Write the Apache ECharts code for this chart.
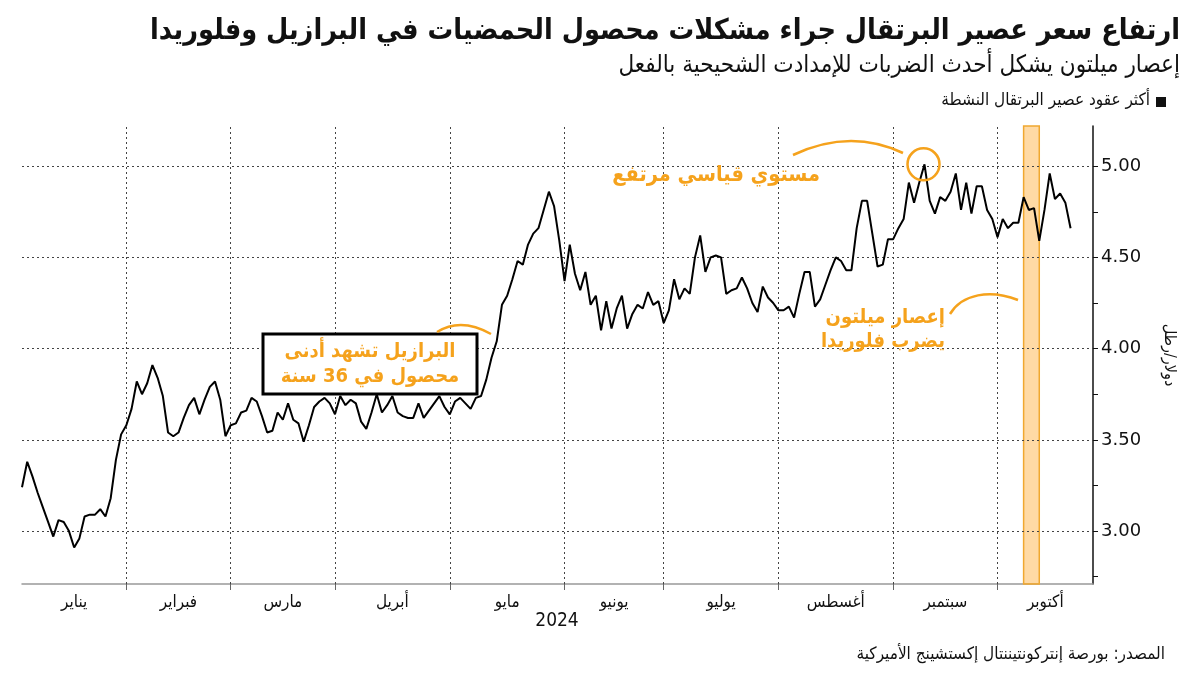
<!DOCTYPE html>
<html>
<head>
<meta charset="utf-8">
<script src="https://cdn.jsdelivr.net/npm/echarts@6/dist/echarts.min.js"></script>
<style>
html,body{margin:0;padding:0;background:#fff;}
#c{width:1200px;height:675px;}
</style>
</head>
<body>
<div id="c" dir="rtl"></div>
<script>
// Trading-day index (Jan 2, 2024 = 0); first plotted value is day 1
const firstDay = 1;
const prices = [
3.24,3.38,3.30,3.21,3.13,3.05,2.97,3.06,3.05,3.00,
2.91,2.96,3.08,3.09,3.09,3.12,3.08,3.18,3.39,3.53,
3.58,3.67,3.82,3.75,3.81,3.91,3.84,3.74,3.54,3.52,
3.54,3.62,3.69,3.73,3.64,3.72,3.79,3.82,3.72,3.52,
3.58,3.59,3.65,3.66,3.73,3.71,3.63,3.54,3.55,3.65,
3.61,3.70,3.61,3.59,3.49,3.58,3.68,3.71,3.73,3.70,
3.64,3.74,3.69,3.72,3.70,3.60,3.56,3.65,3.75,3.65,
3.69,3.74,3.65,3.63,3.62,3.62,3.70,3.62,3.66,3.70,
3.74,3.68,3.64,3.71,3.73,3.70,3.67,3.73,3.74,3.83,
3.95,4.04,4.24,4.29,4.38,4.48,4.46,4.57,4.63,4.66,
4.76,4.86,4.78,4.59,4.37,4.57,4.41,4.32,4.42,4.24,
4.29,4.10,4.26,4.11,4.22,4.29,4.11,4.19,4.24,4.22,
4.31,4.24,4.26,4.14,4.21,4.38,4.27,4.33,4.30,4.50,
4.62,4.42,4.50,4.51,4.50,4.30,4.32,4.33,4.39,4.33,
4.25,4.20,4.34,4.28,4.25,4.21,4.21,4.23,4.17,4.30,
4.42,4.42,4.23,4.27,4.35,4.43,4.50,4.48,4.43,4.43,
4.66,4.81,4.81,4.63,4.45,4.46,4.60,4.60,4.66,4.71,
4.91,4.80,4.91,5.01,4.81,4.74,4.83,4.81,4.86,4.96,
4.76,4.91,4.74,4.89,4.89,4.76,4.71,4.61,4.71,4.66,
4.69,4.69,4.83,4.76,4.77,4.59,4.76,4.96,4.82,4.85,
4.80,4.66
];
// month starts (trading-day index) and labels
const monthStarts = [0,21,41,61,83,105,124,146,168,188,207];
const monthNames = ['يناير','فبراير','مارس','أبريل','مايو','يونيو','يوليو','أغسطس','سبتمبر','أكتوبر'];
const yTickLabels = [3.00,3.50,4.00,4.50,5.00];
const yMinorTicks = [2.75,3.00,3.25,3.50,3.75,4.00,4.25,4.50,4.75,5.00];
const hurricaneBand = [193,196];
const recordHigh = [174,5.01];

const xMin = 1, xMax = 206.3;
const monthMids = monthNames.map((n,i)=>{
  const a = Math.max(monthStarts[i], xMin), b = Math.min(monthStarts[i+1], xMax);
  return (a+b)/2;
});
const seriesData = prices.map((v,i)=>[firstDay+i, v]);

const AR = '"DejaVu Sans Condensed","DejaVu Sans",sans-serif';
const ORANGE = '#F5A21C';

const chart = echarts.init(document.getElementById('c'));
const gridLines = [
  ...monthStarts.slice(1,10).map(d=>({xAxis:d})),
  ...yTickLabels.map(v=>({yAxis:v}))
];
chart.setOption({
  animation:false,
  backgroundColor:'#fff',
  grid:{left:22,right:107,top:126,bottom:91},
  xAxis:{
    type:'value',min:xMin,max:xMax,
    axisLine:{show:true,lineStyle:{color:'#999',width:1.5}},
    axisTick:{show:true,customValues:monthStarts.slice(1,10),length:6,lineStyle:{color:'#666'}},
    axisLabel:{customValues:monthMids,formatter:v=>{
      const i = monthMids.findIndex(m=>Math.abs(m-v)<0.01); return i>=0?monthNames[i]:'';},
      fontFamily:AR,fontSize:17,color:'#111',margin:10},
    splitLine:{show:false}
  },
  yAxis:{
    type:'value',position:'right',min:2.71,max:5.22,
    axisLine:{show:true,lineStyle:{color:'#111',width:1.5}},
    axisTick:{show:true,customValues:yMinorTicks,length:5,inside:false,lineStyle:{color:'#111'}},
    axisLabel:{customValues:yTickLabels,formatter:v=>v.toFixed(2),fontFamily:'"DejaVu Sans",sans-serif',fontSize:18,color:'#111',margin:8},
    splitLine:{show:false},
    name:'دولار/رطل',nameLocation:'middle',nameRotate:-90,nameGap:68,
    nameTextStyle:{fontFamily:AR,fontSize:16,color:'#111'}
  },
  series:[{
    type:'line',data:seriesData,showSymbol:false,symbol:'none',
    lineStyle:{color:'#000',width:2},
    z:3,
    markLine:{silent:true,symbol:'none',label:{show:false},
      lineStyle:{color:'#444',type:[2,3],width:1},data:gridLines,z:1}
  },{
    type:'line',data:[],z:5,silent:true,
    markArea:{silent:true,
      itemStyle:{color:'rgba(255,172,55,0.45)',borderColor:'#F0A830',borderWidth:1.5},
      data:[[{xAxis:hurricaneBand[0]},{xAxis:hurricaneBand[1]}]]}
  }]
});

const rp = chart.convertToPixel({gridIndex:0}, recordHigh);

chart.setOption({graphic:[
  {type:'text',right:20,top:17,style:{text:'ارتفاع سعر عصير البرتقال جراء مشكلات محصول الحمضيات في البرازيل وفلوريدا',font:'bold 28.5px '+AR,fill:'#111'}},
  {type:'text',right:20,top:54,style:{text:'إعصار ميلتون يشكل أحدث الضربات للإمدادت الشحيحية بالفعل',font:'24px '+AR,fill:'#111'}},
  {type:'rect',shape:{x:1156,y:97,width:10,height:10},style:{fill:'#111'}},
  {type:'text',right:50,top:92,style:{text:'أكثر عقود عصير البرتقال النشطة',font:'17px '+AR,fill:'#111'}},
  {type:'text',x:557,y:612,style:{text:'2024',font:'19px '+AR,fill:'#111',textAlign:'center'}},
  {type:'text',right:35,top:646,style:{text:'المصدر: بورصة إنتركونتيننتال إكستشينج الأميركية',font:'17px '+AR,fill:'#111'}},
  // Brazil box
  {type:'rect',shape:{x:263,y:334,width:214,height:60},style:{fill:'#fff',stroke:'#000',lineWidth:3},z:10},
  {type:'text',x:370,y:352,z:11,style:{text:'البرازيل تشهد أدنى',font:'bold 20px '+AR,fill:ORANGE,textAlign:'center',textVerticalAlign:'middle'}},
  {type:'text',x:370,y:377,z:11,style:{text:'محصول في 36 سنة',font:'bold 20px '+AR,fill:ORANGE,textAlign:'center',textVerticalAlign:'middle'}},
  {type:'bezierCurve',shape:{x1:437,y1:332,x2:491,y2:334,cpx1:461,cpy1:317},style:{stroke:ORANGE,lineWidth:2.5,fill:null},z:10},
  // record high
  {type:'text',x:820,y:175,z:11,style:{text:'مستوي قياسي مرتفع',font:'bold 21.5px '+AR,fill:ORANGE,textAlign:'right',textVerticalAlign:'middle'}},
  {type:'bezierCurve',shape:{x1:793,y1:155,x2:903,y2:153,cpx1:850,cpy1:128},style:{stroke:ORANGE,lineWidth:2.5,fill:null},z:10},
  {type:'circle',shape:{cx:rp[0]-1,cy:rp[1],r:16},style:{stroke:ORANGE,lineWidth:2.5,fill:null},z:10},
  // Milton
  {type:'text',x:945,y:318,z:11,style:{text:'إعصار ميلتون',font:'bold 20px '+AR,fill:ORANGE,textAlign:'right',textVerticalAlign:'middle'}},
  {type:'text',x:945,y:342,z:11,style:{text:'يضرب فلوريدا',font:'bold 20px '+AR,fill:ORANGE,textAlign:'right',textVerticalAlign:'middle'}},
  {type:'bezierCurve',shape:{x1:950,y1:314,x2:1018,y2:300,cpx1:962,cpy1:294,cpx2:990,cpy2:289},style:{stroke:ORANGE,lineWidth:2.5,fill:null},z:10}
]});
</script>
</body>
</html>
